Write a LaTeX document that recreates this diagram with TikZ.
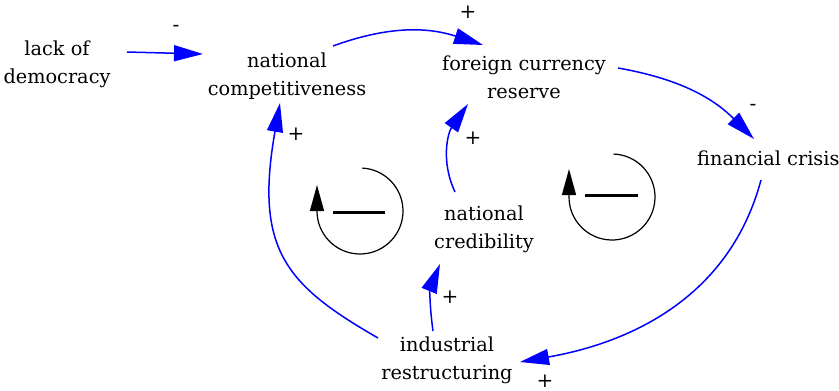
\documentclass[tikz,border=0pt]{standalone}
\usepackage{fontspec}
\setmainfont{DejaVu Serif}
\usetikzlibrary{arrows.meta,calc}
\definecolor{linkblue}{RGB}{0,0,255}
\tikzset{
  var/.style={align=center, inner sep=0pt, font=\fontsize{19.3}{28}\selectfont},
  sign/.style={inner sep=0pt, font=\fontsize{20}{22}\selectfont},
  link/.style={draw=linkblue, line width=1.5pt, -{Triangle[length=29pt,width=16pt]}},
  loopline/.style={line width=1.2pt, -{Triangle[length=26pt,width=14pt]}},
  loopbar/.style={line width=3pt},
}
\begin{document}
\begin{tikzpicture}[x=1pt,y=1pt]
\useasboundingbox (0,0) rectangle (839,-391);

% variables
\node[var] (lod) at (57,-64) {lack of\\democracy};
\node[var] (nc) at (287,-76) {national\\competitiveness};
\node[var] (fcr) at (524,-77) {foreign currency\\reserve};
\node[var,anchor=west] (fc) at (697,-158) {financial crisis};
\node[var] (ncr) at (484,-229) {national\\credibility};
\node[var] (ir) at (447,-360) {industrial\\restructuring};

% causal links
\draw[link] ($(lod)+(70,12)$) -- ($(nc)+(-84,22)$);
\draw[link] ($(nc)+(46,30)$) to[out=20,in=162] ($(fcr)+(-41,32)$);
\draw[link] ($(fcr)+(94,9)$) to[out=-10,in=135] ($(fc.west)+(57,19)$);
\draw[link] ($(fc.west)+(64,-22)$) to[out=-105,in=10] ($(ir)+(73,-2)$);
\draw[link] ($(ir)+(-14,29)$) to[out=98,in=-112] ($(ncr)+(-44,-35)$);
\draw[link] ($(ncr)+(-29,37)$) to[out=115,in=-125] ($(fcr)+(-56,-27)$);
\draw[link] ($(ir)+(-69,22)$) to[out=150,in=-100,out distance=105pt,in distance=150pt] ($(nc)+(-7,-27)$);

% polarities
\node[sign] (s1) at (176,-28) {-};
\node[sign] (s2) at (468,-12) {+};
\node[sign] (s3) at (753,-107) {-};
\node[sign] (s4) at (545,-381) {+};
\node[sign] (s5) at (450,-297) {+};
\node[sign] (s6) at (473,-138) {+};
\node[sign] (s7) at (296,-134) {+};

% balancing loop markers
\draw[loopline] (360,-211) ++(87:43) arc[start angle=87,end angle=-180,radius=43] -- ++(0,26);
\draw[loopbar] (333,-212) -- (385,-212);
\draw[loopline] (612,-197) ++(88:43) arc[start angle=88,end angle=-180,radius=43] -- ++(0,28);
\draw[loopbar] (585,-195) -- (638,-195);
\end{tikzpicture}
\end{document}
